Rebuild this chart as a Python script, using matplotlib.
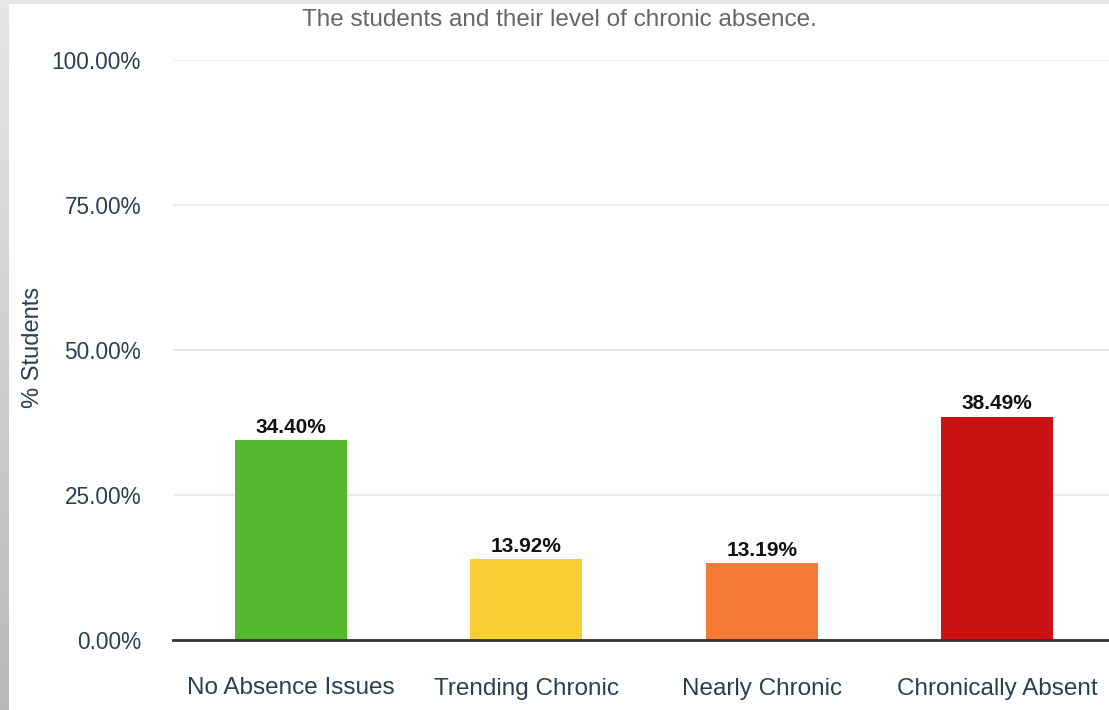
import numpy as np
import matplotlib.pyplot as plt
from matplotlib.ticker import FuncFormatter

categories = ["No Absence Issues", "Trending Chronic", "Nearly Chronic", "Chronically Absent"]
percent_students = [34.40, 13.92, 13.19, 38.49]
bar_colors = ["#55b92e", "#f7ce34", "#f47a35", "#cc1212"]
y_ticks = [0, 25, 50, 75, 100]

TEXT_DARK = "#2e3e4e"

plt.rcParams["font.family"] = ["Liberation Sans", "DejaVu Sans"]

fig = plt.figure(figsize=(11.09, 7.10), dpi=100)
fig.patch.set_facecolor("white")

# grey frame on the left and top edge
edge = fig.add_axes([0, 0, 9 / 1109, 1])
grad = np.linspace(0.90, 0.72, 256).reshape(-1, 1)
edge.imshow(grad, aspect="auto", cmap="gray", vmin=0, vmax=1, extent=[0, 1, 0, 1], origin="upper")
edge.axis("off")
top = fig.add_axes([0, 1 - 4 / 710, 1, 4 / 710])
top.axis("off")
top.add_patch(plt.Rectangle((0, 0), 1, 1, transform=top.transAxes, color="#e6e6e6"))

ax = fig.add_axes([173 / 1109, 70 / 710, 942 / 1109, 580 / 710])
x = np.arange(len(categories))
bars = ax.bar(x, percent_students, width=0.475, color=bar_colors, zorder=3)

for rect, val in zip(bars, percent_students):
    ax.text(rect.get_x() + rect.get_width() / 2, val + 0.6, f"{val:.2f}%",
            ha="center", va="bottom", fontsize=15, fontweight="bold", color="#111111", zorder=4)

ax.set_xlim(-0.5, 3.5)
ax.set_ylim(0, 100)
ax.set_yticks(y_ticks)
ax.yaxis.set_major_formatter(FuncFormatter(lambda v, _: f"{v:.2f}%"))
ax.set_xticks(x)
ax.set_xticklabels(categories)

ax.grid(axis="y", color="#e6e6e6", linewidth=1.2, zorder=0)
for side in ["top", "right", "left"]:
    ax.spines[side].set_visible(False)
ax.spines["bottom"].set_color("#333333")
ax.spines["bottom"].set_linewidth(2)
ax.spines["bottom"].set_zorder(5)

ax.tick_params(axis="y", length=0, pad=23, labelsize=16.3, labelcolor=TEXT_DARK)
ax.tick_params(axis="x", length=0, pad=27, labelsize=17.5, labelcolor=TEXT_DARK)

fig.text(33 / 1109, 1 - 347 / 710, "% Students", rotation=90, ha="center", va="center",
         fontsize=17, color=TEXT_DARK)
fig.text(559 / 1109, 1 - 20 / 710, "The students and their level of chronic absence.",
         ha="center", va="center", fontsize=17.5, color="#666666")

fig.savefig("out.png", dpi=100)
